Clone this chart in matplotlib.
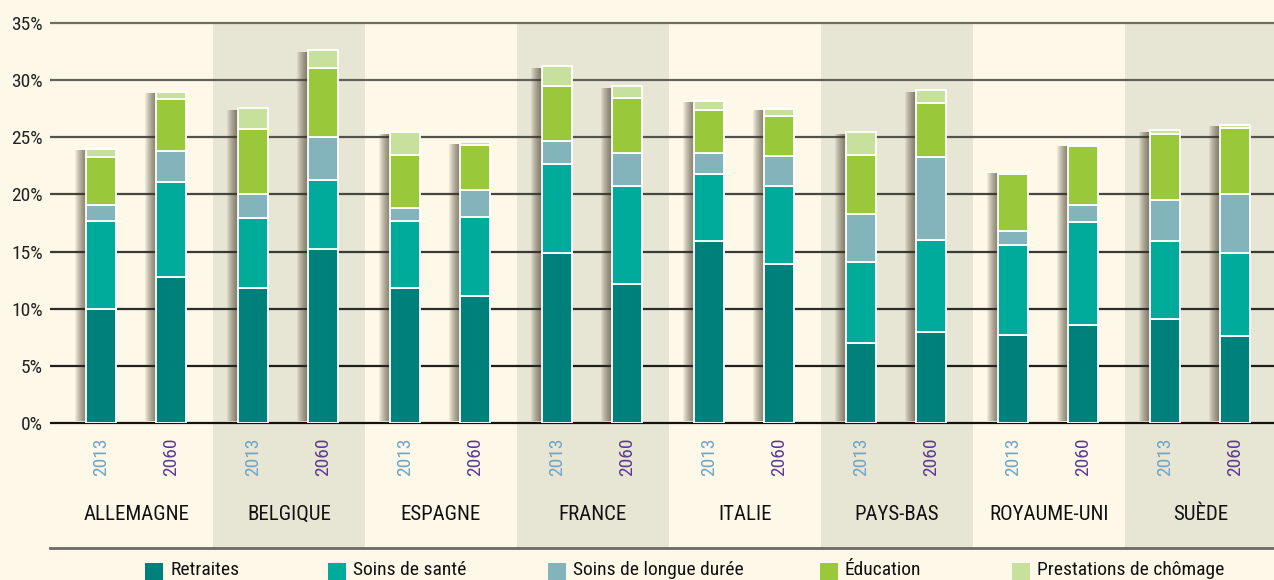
import matplotlib
matplotlib.use("Agg")
import matplotlib.pyplot as plt
from matplotlib.patches import Rectangle
from matplotlib.lines import Line2D
import numpy as np

countries = ["ALLEMAGNE", "BELGIQUE", "ESPAGNE", "FRANCE", "ITALIE", "PAYS-BAS", "ROYAUME-UNI", "SUÈDE"]
years = ["2013", "2060"]
series_names = ["Retraites", "Soins de santé", "Soins de longue durée", "Éducation", "Prestations de chômage"]

# values per country: [2013, 2060]
retraites = [[10.0, 12.8], [11.8, 15.2], [11.8, 11.1], [14.9, 12.2], [15.9, 13.9], [7.0, 8.0], [7.7, 8.6], [9.1, 7.6]]
sante     = [[7.7, 8.3], [6.1, 6.1], [5.9, 6.9], [7.8, 8.5], [5.9, 6.8], [7.1, 8.0], [7.9, 9.0], [6.8, 7.3]]
longue    = [[1.35, 2.7], [2.1, 3.7], [1.1, 2.4], [2.0, 2.9], [1.8, 2.7], [4.2, 7.3], [1.2, 1.5], [3.6, 5.1]]
education = [[4.25, 4.55], [5.75, 6.1], [4.65, 3.9], [4.8, 4.8], [3.8, 3.45], [5.15, 4.7], [5.0, 5.15], [5.75, 5.85]]
chomage   = [[0.7, 0.65], [1.8, 1.5], [2.0, 0.3], [1.7, 1.05], [0.8, 0.65], [2.0, 1.15], [0.2, 0.12], [0.38, 0.25]]
yticks = [0, 5, 10, 15, 20, 25, 30, 35]

colors = ["#00807a", "#00ab9c", "#83b4bc", "#9ac83b", "#c7e09c"]
year_colors = ["#6fa3c8", "#5c3b8f"]
bg = "#fef8e8"
band = "#e7e5d4"

FONT = ["Roboto Condensed", "Liberation Sans Narrow", "Open Sans Condensed", "DejaVu Sans"]
plt.rcParams["font.family"] = FONT
plt.rcParams["font.stretch"] = "condensed"

W, H = 1274, 580
fig = plt.figure(figsize=(W / 100, H / 100), dpi=100, facecolor=bg)

PX = 1 / 152.0  # one pixel in data units along x
ax = fig.add_axes([50 / W, 1 - 423 / H, 1227 / W, 400 / H])
ax.set_facecolor("none")
ax.set_xlim(-11 * PX, 8)
ax.set_ylim(0, 35)
for s in ax.spines.values():
    s.set_visible(False)
ax.set_xticks([])
ax.set_yticks(yticks)
ax.set_yticklabels([f"{v}%" for v in yticks], fontsize=14, color="#222")
ax.tick_params(axis="y", length=0, pad=5)

# shaded bands
for i in range(len(countries)):
    if i % 2 == 1:
        ax.add_patch(Rectangle((i, -125 / 400), 1, 1 + 125 / 400, transform=ax.get_xaxis_transform(),
                               facecolor=band, edgecolor="none", clip_on=False, zorder=0))

# gridlines (grey at top, darker at bottom)
c_top = np.array([0.43, 0.43, 0.40])
c_bot = np.array([0.07, 0.07, 0.07])
for v in yticks:
    t = v / 35
    col = c_bot * (1 - t) + c_top * t
    ax.plot([-11 * PX, 8], [v, v], color=col, lw=1.6, zorder=1, clip_on=False, solid_capstyle="butt")

data = [retraites, sante, longue, education, chomage]
offsets = [-0.23, 0.23]
bw = 0.2

for ci in range(len(countries)):
    for yi in range(2):
        x = ci + 0.495 + offsets[yi]
        vals = [d[ci][yi] for d in data]
        total = sum(vals)
        # shadow on the left
        for k in range(1, 12):
            ax.bar(x - bw / 2 - k * PX, total - 0.3, width=k * PX + 0.05, bottom=0.15, align="edge",
                   color="#3b3320", alpha=0.075, linewidth=0, zorder=2)
        bottom = 0
        for si, v in enumerate(vals):
            ax.bar(x, v, width=bw, bottom=bottom, color=colors[si], edgecolor="white",
                   linewidth=1.3, zorder=3)
            bottom += v
        ax.text(x, -34 / 400, years[yi], transform=ax.get_xaxis_transform(), rotation=90,
                ha="center", va="center", fontsize=14, color=year_colors[yi])
    ax.text(ci + 0.5, -91 / 400, countries[ci], transform=ax.get_xaxis_transform(),
            ha="center", va="center", fontsize=15, color="#111")

# bottom separator line
fig.add_artist(Line2D([50 / W, 1], [1 - 548 / H, 1 - 548 / H], color="#6b6b66", lw=2,
                      transform=fig.transFigure))

# legend
leg_x = [145, 328, 548, 820, 1012]
for si, name in enumerate(series_names):
    fig.add_artist(Rectangle((leg_x[si] / W, 1 - 580 / H), 18 / W, 17 / H, transform=fig.transFigure,
                             facecolor=colors[si], edgecolor="none"))
    fig.text((leg_x[si] + 25) / W, 1 - 570 / H, name, ha="left", va="center",
             fontsize=14, color="#111")

fig.savefig("out.png", dpi=100, facecolor=bg)
